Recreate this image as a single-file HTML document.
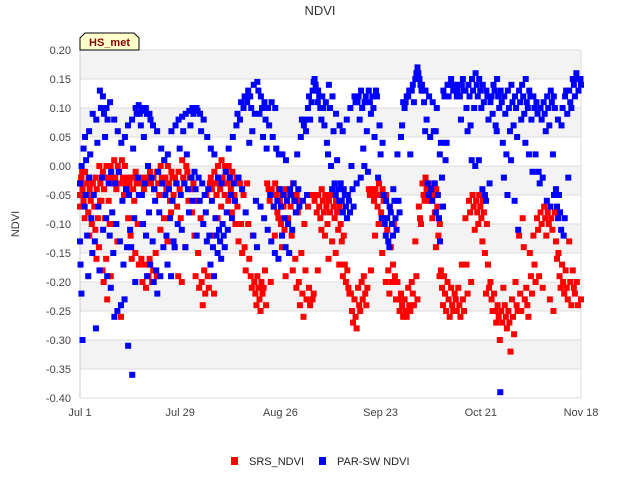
<!DOCTYPE html>
<html><head><meta charset="utf-8"><style>
body{margin:0;background:#fff;font-family:"Liberation Sans",sans-serif;}
svg text{font-family:"Liberation Sans",sans-serif;}
</style></head><body>
<svg id="chart" width="640" height="480" xmlns="http://www.w3.org/2000/svg">
<text x="320" y="15" text-anchor="middle" font-size="13" fill="#333">NDVI</text>
<text transform="translate(19,224) rotate(-90)" text-anchor="middle" font-size="11" fill="#333">NDVI</text>
<g id="bands"></g>
<g id="yticks"></g>
<g id="xticks"></g>
<g id="marks"></g>
<g>
<polygon points="80,50 80,38 85,33 134,33 139,38 139,50" fill="#ffffcc" stroke="#000" stroke-width="1"/>
<text x="109.5" y="46" text-anchor="middle" font-size="11" font-weight="bold" fill="#8b0000">HS_met</text>
</g>
<g>
<g><rect x="231" y="457" width="7" height="8" fill="#f00"/><text x="249" y="465" font-size="11" fill="#222">SRS_NDVI</text></g>
<g><rect x="319" y="457" width="7" height="8" fill="#00f"/><text x="337" y="465" font-size="11" fill="#222">PAR-SW NDVI</text></g>
</g>
</svg>
<script>
const yTicks=[0.20,0.15,0.10,0.05,0.00,-0.05,-0.10,-0.15,-0.20,-0.25,-0.30,-0.35,-0.40];
const xTickDays=[0,28,56,84,112,140];
const xTickLabels=["Jul 1","Jul 29","Aug 26","Sep 23","Oct 21","Nov 18"];
const srsVals=[
[-0.03,-0.05,-0.07,-0.02,-0.01],[-0.02,-0.04,-0.06,-0.09,-0.05],[-0.01,-0.03,-0.05,-0.08,-0.12],[-0.02,-0.04,-0.06,-0.10,-0.03],[-0.03,-0.05,-0.07,-0.11,-0.16],
[-0.02,-0.04,-0.09,-0.14,-0.06],[0.0,-0.03,-0.06,-0.18,-0.20],[-0.01,-0.04,-0.09,-0.16,-0.23],[0.0,-0.02,-0.06,-0.10,-0.19],[0.0,-0.02,-0.03,-0.10],
[0.01,-0.02,-0.04,-0.13],[0.0,-0.01,-0.03,-0.26],[0.01,-0.02,-0.05],[0.0,-0.03,-0.04,-0.09],[-0.02,-0.03,-0.12,-0.16],
[-0.02,-0.04,-0.06,-0.15],[-0.01,-0.03,-0.10,-0.17],[-0.03,-0.05,-0.16,-0.20],[-0.02,-0.04,-0.17,-0.21],[-0.03,-0.02,-0.19,-0.16],
[-0.01,-0.03,-0.20,-0.18],[-0.02,-0.04,-0.15,-0.19],[-0.01,-0.03,-0.05,-0.11],[0.0,-0.02,-0.03,-0.09],[0.01,-0.02,-0.04,-0.13],
[0.0,-0.03,-0.06,-0.08],[-0.01,-0.02,-0.05,-0.14],[-0.02,-0.03,-0.07,-0.19],[-0.01,-0.04,-0.09,-0.20],[0.01,-0.02,-0.03,-0.14],
[0.0,-0.01,-0.06],[-0.02,-0.04,-0.08],[-0.03,-0.12,-0.19],[-0.06,-0.15,-0.21],[-0.09,-0.20,-0.24],
[-0.18,-0.22,-0.05],[-0.19,-0.21,-0.03],[-0.02,-0.04,-0.12,-0.22],[-0.01,-0.03,-0.05,-0.09],[0.0,-0.02,-0.04,-0.07],
[0.01,-0.02,-0.03,-0.05],[0.0,-0.01,-0.03,-0.06],[0.0,-0.02,-0.04,-0.08],[-0.01,-0.03,-0.05,-0.10],[-0.02,-0.07,-0.13],
[-0.03,-0.10,-0.15],[-0.05,-0.14,-0.18],[-0.03,-0.10,-0.16],[-0.19,-0.21,-0.12],[-0.20,-0.22,-0.24],
[-0.19,-0.21,-0.23,-0.25],[-0.20,-0.22,-0.21],[-0.18,-0.24,-0.03],[-0.04,-0.06,-0.20],[-0.04,-0.05,-0.07,-0.12],
[-0.03,-0.05,-0.08,-0.09],[-0.04,-0.06,-0.10,-0.14],[-0.05,-0.07,-0.11,-0.19],[-0.04,-0.06,-0.09,-0.15],[-0.05,-0.07,-0.12,-0.18],
[-0.03,-0.06,-0.16,-0.21],[-0.05,-0.08,-0.20,-0.24],[-0.06,-0.15,-0.22,-0.26],[-0.10,-0.18,-0.23],[-0.07,-0.21,-0.24],
[-0.05,-0.23,-0.22],[-0.06,-0.05,-0.08,-0.18],[-0.05,-0.07,-0.09,-0.11],[-0.04,-0.06,-0.08,-0.12],[-0.05,-0.07,-0.10,-0.16],
[-0.06,-0.08,-0.05,-0.13],[-0.05,-0.07,-0.09,-0.15],[-0.06,-0.08,-0.11,-0.17],[-0.07,-0.10,-0.13,-0.19],[-0.12,-0.17,-0.20],
[-0.18,-0.21,-0.22],[-0.22,-0.25,-0.27],[-0.23,-0.26,-0.28],[-0.21,-0.24,-0.25],[-0.20,-0.23,-0.19],
[-0.22,-0.24,-0.21],[-0.04,-0.05,-0.18],[-0.04,-0.05,-0.06,-0.12],[-0.04,-0.05,-0.07,-0.10],[-0.03,-0.05,-0.08,-0.15],
[-0.04,-0.06,-0.09,-0.20],[-0.05,-0.11,-0.18,-0.22],[-0.07,-0.14,-0.20,-0.17],[-0.10,-0.19,-0.23],[-0.20,-0.23,-0.25],
[-0.22,-0.24,-0.26],[-0.23,-0.25,-0.26],[-0.21,-0.24,-0.25],[-0.20,-0.22,-0.24],[-0.13,-0.19,-0.23],
[-0.07,-0.09,-0.10],[-0.03,-0.05,-0.06],[-0.02,-0.04,-0.05,-0.06],[-0.03,-0.04,-0.05,-0.09],[-0.03,-0.05,-0.08,-0.14],
[-0.04,-0.07,-0.12,-0.19],[-0.10,-0.18,-0.21,-0.24],[-0.19,-0.22,-0.25],[-0.20,-0.23,-0.26],[-0.21,-0.24,-0.25],
[-0.22,-0.23,-0.25],[-0.21,-0.24,-0.26],[-0.17,-0.23,-0.25],[-0.09,-0.17,-0.22],[-0.06,-0.08,-0.20],
[-0.05,-0.07,-0.11],[-0.06,-0.08,-0.10],[-0.05,-0.07,-0.09,-0.13],[-0.06,-0.08,-0.15,-0.22],[-0.10,-0.17,-0.21],
[-0.20,-0.23,-0.25],[-0.22,-0.25,-0.27],[-0.24,-0.26,-0.30],[-0.25,-0.27,-0.21],[-0.24,-0.26,-0.28],
[-0.25,-0.27,-0.32],[-0.23,-0.26,-0.29],[-0.20,-0.24,-0.25],[-0.12,-0.22,-0.25],[-0.09,-0.14,-0.23],
[-0.21,-0.24,-0.26],[-0.15,-0.19,-0.22],[-0.12,-0.17,-0.20],[-0.09,-0.11,-0.19],[-0.08,-0.10,-0.21],
[-0.07,-0.09,-0.12],[-0.08,-0.10,-0.23],[-0.09,-0.11,-0.25],[-0.08,-0.13,-0.16],[-0.15,-0.19,-0.21],
[-0.17,-0.20,-0.22],[-0.18,-0.21,-0.23],[-0.13,-0.20,-0.24],[-0.18,-0.21,-0.22],[-0.20,-0.24],
[-0.23]];
const parVals=[
[-0.03,-0.13,-0.17,0.0],[-0.22,-0.30,0.03,-0.07,-0.05],[0.05,0.01,-0.12,-0.19,-0.02],[0.06,0.02,-0.09,-0.15],[0.09,-0.05,-0.13,-0.28],
[0.08,0.04,-0.07,-0.18],[0.13,0.10,-0.02,-0.11],[0.12,0.09,0.05,-0.09,-0.19],[0.10,0.08,-0.03,-0.12,-0.21],[0.11,-0.01,-0.08,-0.15,-0.26],
[0.08,-0.03,-0.10,-0.25],[0.06,-0.01,-0.13,-0.24],[0.04,-0.06,-0.17,-0.23],[0.05,-0.04,-0.14,-0.31],[0.07,-0.05,-0.11,-0.14,-0.36],
[0.08,0.03,-0.09,-0.20],[0.10,0.09,-0.02,-0.05],[0.105,0.09,0.07,-0.05,-0.10],[0.10,0.095,0.05,-0.03,-0.12,-0.19],[0.10,0.09,0.00,-0.08,-0.17],
[0.09,0.08,-0.02,-0.13,-0.20],[0.07,-0.04,-0.06,-0.18,-0.22],[0.06,-0.01,-0.08,-0.19],[0.03,-0.03,-0.14],[0.01,-0.05,-0.12,-0.17],
[0.02,-0.04,-0.09,-0.19],[0.06,-0.06,-0.13,-0.14],[0.07,-0.03,-0.10],[0.08,0.03,-0.05,-0.11],[0.085,0.06,-0.03,-0.14],
[0.09,0.02,-0.04,-0.08],[0.095,0.07,-0.02,-0.06],[0.10,0.09,-0.01,-0.04,-0.12],[0.10,0.095,-0.02,-0.06],[0.09,0.06,-0.03,-0.10],
[0.08,-0.05,-0.08,-0.13],[0.05,-0.04,-0.12,-0.17],[0.03,-0.06,-0.14,-0.19],[0.02,-0.09,-0.12,-0.15],[-0.02,-0.11,-0.13,-0.16],
[-0.03,-0.10,-0.12,-0.14],[-0.01,-0.08,-0.11],[0.03,-0.02,-0.05,-0.09],[0.05,-0.03,-0.06],[0.07,0.09,-0.02],
[0.08,0.11,-0.04],[0.10,0.12,-0.08],[0.11,0.13,0.04],[0.12,0.10,0.06,-0.12],[0.14,0.09,-0.06,-0.14],
[0.145,0.13,0.09,-0.07],[0.12,0.10,0.05,-0.09],[0.11,0.08,0.03,-0.11],[0.10,0.07,-0.05,-0.13],[0.11,0.05,-0.07,-0.15],
[0.10,0.03,-0.06,-0.16],[0.02,-0.04,-0.07,-0.12],[0.02,-0.05,-0.09,-0.14],[0.01,-0.06,-0.10,-0.15],[-0.04,-0.05,-0.11],
[-0.03,-0.06,-0.08],[0.02,-0.04,-0.07],[0.05,0.08,-0.06],[0.07,0.08,0.06,-0.05],[0.10,0.12,0.08],
[0.11,0.13,0.145],[0.15,0.14,0.13,0.11],[0.13,0.12,0.10,0.08],[0.12,0.10,0.07],[0.11,0.04,0.02],
[0.14,0.10,0.00,-0.04],[0.12,0.06,-0.03,-0.05],[0.09,0.01,-0.04,-0.06],[0.07,-0.03,-0.06,-0.08],[0.06,-0.04,-0.05,-0.07,-0.09],
[0.08,-0.05,-0.06,-0.08],[0.10,0.00,-0.04,-0.07],[0.12,0.11,-0.03],[0.11,0.12,0.08,-0.02],[0.13,0.10,0.03,0.00],
[0.11,0.12,0.06,-0.01],[0.13,0.11,0.09],[0.12,0.10,0.05],[0.13,0.12,-0.02],[0.07,0.02,-0.09],
[0.04,-0.05,-0.10,-0.12],[-0.06,-0.09,-0.13,-0.14],[-0.07,-0.08,-0.10,-0.12],[-0.04,-0.06,-0.09,-0.11],[0.02,-0.06,-0.08],
[0.05,0.07,0.11],[0.10,0.11,0.12],[0.12,0.13,0.02],[0.13,0.14,0.11],[0.15,0.16,0.17],
[0.16,0.15,0.14,0.13],[0.14,0.13,0.11,0.06],[0.13,0.08,-0.03,-0.05],[0.12,0.05,-0.04,-0.06],[0.11,0.06,-0.03,-0.08],
[0.06,0.10,-0.05,-0.09,-0.13],[0.02,0.04,-0.02,-0.07],[0.13,0.12,0.01,0.04],[0.14,0.12,0.14],[0.15,0.14,0.13],
[0.14,0.13,0.12],[0.13,0.14,0.12,0.08],[0.14,0.15,0.13],[0.13,0.10,0.06],[0.14,0.12,0.07,0.01],
[0.15,0.13,0.10,0.00],[0.16,0.14,0.12,0.01],[0.15,0.13,0.10,-0.04],[0.14,0.11,-0.05,-0.06],[0.13,0.12,0.08,-0.03],
[0.11,0.12,0.09],[0.14,0.13,0.07,0.06],[0.15,0.12,0.10,-0.39],[0.13,0.11,0.04,-0.02],[0.12,0.09,0.02,-0.05],
[0.13,0.10,0.06,0.01],[0.14,0.11,0.07,-0.06],[0.12,0.10,0.05,-0.11],[0.13,0.11,0.08],[0.14,0.12,0.09,0.04],
[0.15,0.11,0.10,0.02],[0.13,0.12,0.08,-0.01],[0.12,0.10,0.02],[0.11,0.09,-0.01,-0.03],[0.10,0.08,-0.02],
[0.11,0.09,0.06,-0.06],[0.12,0.10,0.07,-0.07],[0.13,0.11,0.02,-0.05],[0.12,0.10,-0.04,-0.07,-0.09],[0.08,-0.05,-0.08,-0.11],
[0.07,0.10,-0.12,-0.09],[0.12,0.13,0.09,-0.02],[0.13,0.11,0.10],[0.15,0.14,0.12],[0.16,0.15,0.13],
[0.15,0.14]];

const NS="http://www.w3.org/2000/svg";
const L=80,R=581,T=50,B=398,yMax=0.2,yMin=-0.4,dMax=140;
function xs(d){return L+(d/dMax)*(R-L);}
function ys(v){return T+(yMax-v)/(yMax-yMin)*(B-T);}
function mk(tag,attrs,parent){const e=document.createElementNS(NS,tag);for(const k in attrs)e.setAttribute(k,attrs[k]);parent.appendChild(e);return e;}
const bands=document.getElementById('bands');
for(let i=0;i<yTicks.length-1;i++){
  const r=mk('rect',{x:L,y:ys(yTicks[i]),width:R-L,height:ys(yTicks[i+1])-ys(yTicks[i]),fill:i%2===0?'#f3f3f3':'#fff'},bands);
  
  
}
const yg=document.getElementById('yticks');
yTicks.forEach(v=>{
  const l=mk('line',{x1:L,x2:R,y1:ys(v),y2:ys(v),stroke:'#ddd','stroke-width':1},yg);
  
  
  const t=mk('text',{x:71,y:ys(v)+4,'text-anchor':'end','font-size':11,fill:'#444'},yg);
  
  
  t.textContent=v.toFixed(2);
});
mk('line',{x1:L,x2:L,y1:T,y2:B,stroke:'#ccc'},yg);
mk('line',{x1:R,x2:R,y1:T,y2:B,stroke:'#ddd'},yg);
const xg=document.getElementById('xticks');
xTickDays.forEach((d,i)=>{
  const t=mk('text',{x:xs(d),y:416,'text-anchor':'middle','font-size':11,fill:'#444'},xg);
  
  
  t.textContent=xTickLabels[i];
});
const mg=document.getElementById('marks');
function drawSeries(vals,color,name){
  vals.forEach((arr,d)=>{arr.forEach((v,i)=>{
    const off=(i-(arr.length-1)/2)*0.3;
    const dd=Math.max(0,Math.min(dMax,d+off));
    const r=mk('rect',{x:xs(dd)-3,y:ys(v)-3,width:6,height:6,fill:color},mg);
    
    
  });});
}
drawSeries(srsVals,'#ff0000','srs-ndvi-point');
drawSeries(parVals,'#0000ff','par-sw-ndvi-point');
</script>
</body></html>
